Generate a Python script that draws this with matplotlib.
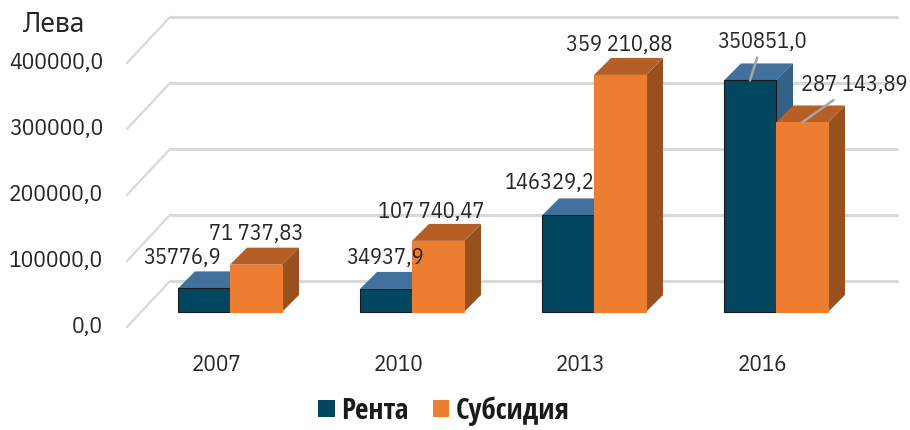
import matplotlib
matplotlib.use("Agg")
import matplotlib.pyplot as plt
from matplotlib.patches import Polygon, Patch
import matplotlib.transforms as mtransforms

plt.rcParams['font.family'] = ['IBM Plex Sans Condensed', 'Noto Sans', 'DejaVu Sans']

# ---- data ----
years = ['2007', '2010', '2013', '2016']
renta = [35776.9, 34937.9, 146329.2, 350851.0]
subsidia = [71737.83, 107740.47, 359210.88, 287143.89]
renta_labels = ['35776,9', '34937,9', '146329,2', '350851,0']
subsidia_labels = ['71 737,83', '107 740,47', '359 210,88', '287 143,89']
yticks = [0, 100000, 200000, 300000, 400000]
ytick_labels = ['0,0', '100000,0', '200000,0', '300000,0', '400000,0']
series_names = ['Рента', 'Субсидия']
y_title = 'Лева'

# ---- geometry (pixel-based styling) ----
W, H = 910, 430
DPI = 100
PX_PER_CAT = 182.0          # px between categories
PX_PER_UNIT = 66.0 / 100000 # px per value unit
X0_PX = 230.0               # px of first category centre
BASE_PX = 312.0             # px (from top) of value 0 at bar plane

fig = plt.figure(figsize=(W / DPI, H / DPI), dpi=DPI)
ax = fig.add_axes([0, 0, 1, 1])
ax.set_xlim(-X0_PX / PX_PER_CAT, (W - X0_PX) / PX_PER_CAT)
ax.set_ylim(-(H - BASE_PX) / PX_PER_UNIT, BASE_PX / PX_PER_UNIT)
ax.axis('off')

def px_x(px):
    return px / PX_PER_CAT

def px_y(px):
    return px / PX_PER_UNIT

def abs_x(px):
    return (px - X0_PX) / PX_PER_CAT

# bar depth offset
ddx, ddy = px_x(17), px_y(17)
# front plane / back wall offsets relative to bar plane (vertical)
front_dy = px_y(-15)
back_dy = px_y(31)
front_dx = px_x(-14)

grid_c = '#d9d9d9'
for v in yticks:
    ax.plot([abs_x(170), abs_x(898)], [v + back_dy, v + back_dy],
            color=grid_c, lw=2.2, zorder=1, solid_capstyle='butt')
    ax.plot([abs_x(127), abs_x(170)], [v + front_dy, v + back_dy],
            color=grid_c, lw=1.6, zorder=1)

# y tick labels (front plane)
for v, lab in zip(yticks, ytick_labels):
    ax.text(abs_x(103), v + front_dy, lab, ha='right', va='center',
            fontsize=16.8, color='#262626', zorder=5)

fig.text(54 / W, 1 - 25 / H, y_title, ha='center', va='center',
         fontsize=19, color='#262626', family=['Noto Sans', 'DejaVu Sans'])

bw = px_x(52)
styles = [
    dict(front='#02475f', top='#41719c', side='#346187', edge='#1a1a1a'),
    dict(front='#ed7d31', top='#b55f26', side='#99501f', edge='#ed7d31'),
]

def draw_bars(vals, offset, st, z):
    xs = [i + offset for i in range(len(vals))]
    for i, (x, v) in enumerate(zip(xs, vals)):
        x0 = x - bw / 2
        side = Polygon([(x0 + bw, 0), (x0 + bw, v), (x0 + bw + ddx, v + ddy),
                        (x0 + bw + ddx, ddy)], closed=True,
                       facecolor=st['side'], edgecolor='none', zorder=z)
        top = Polygon([(x0, v), (x0 + bw, v), (x0 + bw + ddx, v + ddy),
                       (x0 + ddx, v + ddy)], closed=True,
                      facecolor=st['top'], edgecolor='none', zorder=z)
        ax.add_patch(side)
        ax.add_patch(top)
    ax.bar(xs, vals, width=bw, color=st['front'], edgecolor=st['edge'],
           linewidth=0.8, zorder=z + 0.05)
    return xs

xr = draw_bars(renta, -bw / 2, styles[0], 2)
xs_ = draw_bars(subsidia, bw / 2, styles[1], 3)

# data labels: offsets in px relative to bar top-front centre
r_off = [(-22, 30), (-1, 31), (-18, 32), (12, 38)]
s_off = [(0, 31), (-7, 29), (-1, 30), (52, 37)]
r_lead = [False, False, False, True]
s_lead = [False, False, False, True]

def label(xs, vals, labs, offs, leads):
    for x, v, lab, (ox, oy), ld in zip(xs, vals, labs, offs, leads):
        kw = {}
        if ld:
            kw['arrowprops'] = dict(arrowstyle='-', color='#a6a6a6', lw=1.8,
                                    shrinkA=1, shrinkB=0)
        ax.annotate(lab, xy=(x, v), xytext=(ox * 0.72, oy * 0.72),
                    textcoords='offset points', ha='center', va='center',
                    fontsize=16, color='#262626', zorder=10, **kw)

label(xr, renta, renta_labels, r_off, r_lead)
label(xs_, subsidia, subsidia_labels, s_off, s_lead)

# category labels (front plane)
trans = mtransforms.blended_transform_factory(ax.transData, fig.transFigure)
for i, y in enumerate(years):
    ax.text(i + front_dx, 1 - 365 / H, y, transform=trans, ha='center',
            va='center', fontsize=16.5, color='#262626')

handles = [Patch(facecolor=styles[0]['front'], edgecolor='none'),
           Patch(facecolor=styles[1]['front'], edgecolor='none')]
leg = fig.legend(handles, series_names, loc='center', bbox_to_anchor=(444 / W, 1 - 411 / H),
                 ncol=2, frameon=False, handlelength=0.55, handleheight=0.55,
                 handletextpad=0.22, columnspacing=0.85,
                 prop=dict(family=['Open Sans Condensed', 'DejaVu Sans'],
                           size=21, weight='bold'))
for t in leg.get_texts():
    t.set_color('#1a1a1a')

fig.savefig('out.png', dpi=DPI)
